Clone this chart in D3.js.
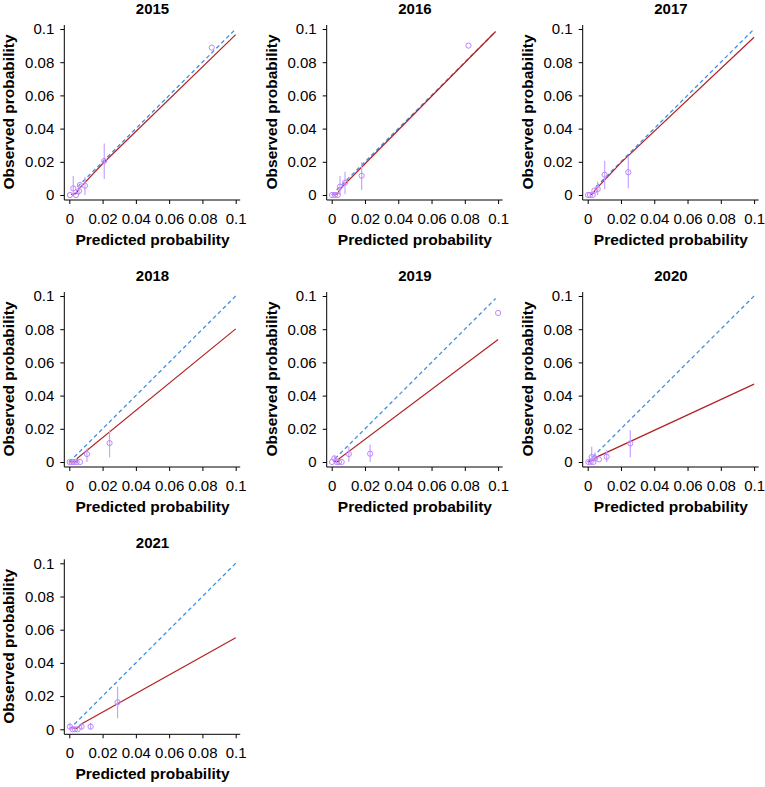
<!DOCTYPE html>
<html>
<head>
<meta charset="utf-8">
<script src="https://cdn.jsdelivr.net/npm/d3@7"></script>
<style>
  body { margin: 0; background: #fff; }
  svg { display: block; }
  text { font-family: "Liberation Sans", Arial, sans-serif; fill: #000; }
</style>
</head>
<body>
<svg id="chart" width="765" height="787"></svg>
<script>
// ---------- data ----------
const years = ["2015", "2016", "2017", "2018", "2019", "2020", "2021"];
const tickValues = [0, 0.02, 0.04, 0.06, 0.08, 0.1];
const tickLabels = ["0", "0.02", "0.04", "0.06", "0.08", "0.1"];

// grouped observations: [predicted, observed, ciLow, ciHigh]
const groups2015 = [[0.0004, 0, null, null], [0.0024, 0.004, 0, 0.0114], [0.004, 0, null, null],
  [0.0058, 0.0024, 0, 0.006], [0.0064, 0.006, null, null], [0.0094, 0.0056, 0, 0.011],
  [0.021, 0.0205, 0.0096, 0.031], [0.0856, 0.0888, null, null]];
const groups2016 = [[0.0002, 0, null, null], [0.002, 0, null, null], [0.0036, 0, null, null],
  [0.005, 0.005, 0, 0.0114], [0.008, 0.0074, 0.0004, 0.014], [0.018, 0.0116, 0.003, 0.0197],
  [0.0822, 0.09, null, null]];
const groups2017 = [[0.0002, 0, null, null], [0.0014, 0, null, null], [0.003, 0, null, null],
  [0.004, 0.0026, null, null], [0.006, 0.0036, 0, 0.008], [0.0102, 0.0122, 0.0034, 0.0207],
  [0.0244, 0.0137, 0.004, 0.0237]];
const groups2018 = [[0.0002, 0, null, null], [0.0014, 0, null, null], [0.0028, 0, null, null],
  [0.0044, 0, null, null], [0.0064, 0, null, null], [0.0106, 0.0048, 0, 0.0082],
  [0.0242, 0.0114, 0.0028, 0.0192]];
const groups2019 = [[0.0002, 0, null, null], [0.0016, 0.0022, 0, 0.0038], [0.003, 0, null, null],
  [0.0044, 0, null, null], [0.006, 0, null, null], [0.0103, 0.0048, 0, 0.0092],
  [0.0231, 0.005, 0, 0.0106], [0.1, 0.0898, null, null]];
const groups2020 = [[0.0004, 0, null, null], [0.0018, 0, null, null], [0.0024, 0.003, 0, 0.0092],
  [0.0034, 0, null, null], [0.0044, 0.0022, 0, 0.0058], [0.0068, 0.0016, null, null],
  [0.0114, 0.0032, 0, 0.0072], [0.0256, 0.0112, 0.0028, 0.0192]];
const groups2021 = [[0.0004, 0.0016, 0, 0.004], [0.002, 0, null, null], [0.0034, 0, null, null],
  [0.005, 0, null, null], [0.0074, 0.0016, 0, 0.0036], [0.0128, 0.0016, 0, 0.004],
  [0.029, 0.0163, 0.0066, 0.0257]];

// flexible calibration curves: [predicted, observed]
const curve2015 = [[0.001, 0.0003], [0.004, 0.0008], [0.0065, 0.0045], [0.02, 0.0188], [0.1, 0.0966]];
const curve2016 = [[0.001, 0], [0.0036, 0.0008], [0.005, 0.0035], [0.02, 0.0188], [0.0985, 0.0985]];
const curve2017 = [[0.0015, 0], [0.003, 0.0008], [0.005, 0.0035], [0.02, 0.0195], [0.1, 0.095]];
const curve2018 = [[0.0005, 0], [0.0047, 0.0002], [0.0048, 0.0022], [0.1, 0.0802]];
const curve2019 = [[0.001, 0.0002], [0.004, 0.0002], [0.0042, 0.0018], [0.1, 0.0738]];
const curve2020 = [[0.0008, 0], [0.0035, 0.0012], [0.005, 0.0028], [0.1, 0.0469]];
const curve2021 = [[0.0008, 0.0012], [0.0045, 0.0004], [0.007, 0.003], [0.1, 0.0552]];

// ideal (diagonal) line extent per panel
const ideal2015 = [0.005, 0.1];
const ideal2016 = [0, 0.098];
const ideal2017 = [0.005, 0.1];
const ideal2018 = [0, 0.1];
const ideal2019 = [0.002, 0.0985];
const ideal2020 = [0, 0.1];
const ideal2021 = [0.003, 0.1];

const groupsByYear = [groups2015, groups2016, groups2017, groups2018, groups2019, groups2020, groups2021];
const curvesByYear = [curve2015, curve2016, curve2017, curve2018, curve2019, curve2020, curve2021];
const idealByYear = [ideal2015, ideal2016, ideal2017, ideal2018, ideal2019, ideal2020, ideal2021];

// ---------- layout ----------
const colX0 = [69.3, 331.7, 587.7];   // pixel of x = 0 per column
const rowY0 = [195, 462, 729.3];      // pixel of y = 0 per row
const xSpan = 166.4, ySpan = 166;

const svg = d3.select("#chart");
const fmt = d => tickLabels[tickValues.indexOf(d)];

years.forEach((yr, i) => {
  const col = i % 3, row = Math.floor(i / 3);
  const x0 = colX0[col], y0 = rowY0[row];
  const x = d3.scaleLinear().domain([0, 0.1]).range([x0, x0 + xSpan]);
  const y = d3.scaleLinear().domain([0, 0.1]).range([y0, y0 - ySpan]);
  const g = svg.append("g");

  // L-shaped frame
  const left = x0 - 5, bottom = y0 + 5, right = x(0.1) + 4.5, top = y(0.1) - 4;
  g.append("path")
    .attr("d", `M${left},${top}V${bottom}H${right}`)
    .attr("fill", "none").attr("stroke", "#000").attr("stroke-width", 1);

  // axes
  const xAxis = d3.axisBottom(x).tickValues(tickValues).tickFormat(fmt)
    .tickSize(4).tickPadding(9.5).tickSizeOuter(0);
  const gx = g.append("g").attr("transform", `translate(0,${bottom})`).call(xAxis);
  gx.select(".domain").remove();

  const yAxis = d3.axisLeft(y).tickValues(tickValues).tickFormat(fmt)
    .tickSize(4).tickPadding(6).tickSizeOuter(0);
  const gy = g.append("g").attr("transform", `translate(${left},0)`).call(yAxis);
  gy.select(".domain").remove();

  [gx, gy].forEach(a => {
    a.selectAll("text").style("font-size", "15px").style("font-family", "'Liberation Sans', Arial, sans-serif").attr("fill", "#000");
    a.selectAll("line").attr("stroke", "#000");
  });

  // titles
  g.append("text").attr("x", x(0.05)).attr("y", y(0.1) - 15)
    .attr("text-anchor", "middle").style("font-size", "15px").style("font-weight", "bold").text(yr);
  g.append("text").attr("x", x(0.05)).attr("y", y0 + 50)
    .attr("text-anchor", "middle").style("font-size", "15.5px").style("font-weight", "bold")
    .text("Predicted probability");
  g.append("text")
    .attr("transform", `translate(${x0 - 55},${y(0.05)}) rotate(-90)`)
    .attr("text-anchor", "middle").style("font-size", "15.5px").style("font-weight", "bold")
    .text("Observed probability");

  // ideal line
  const ideal = idealByYear[i];
  g.append("line")
    .attr("x1", x(ideal[0])).attr("y1", y(ideal[0]))
    .attr("x2", x(ideal[1])).attr("y2", y(ideal[1]))
    .attr("stroke", "#3f8fe6").attr("stroke-width", 1.3).attr("stroke-dasharray", "4,3");

  // calibration curve
  const line = d3.line().x(d => x(d[0])).y(d => y(d[1]));
  g.append("path").datum(curvesByYear[i]).attr("d", line)
    .attr("fill", "none").attr("stroke", "#b22222").attr("stroke-width", 1.2);

  // error bars
  const grp = groupsByYear[i];
  g.selectAll("line.ci").data(grp.filter(d => d[2] !== null)).enter().append("line")
    .attr("class", "ci")
    .attr("x1", d => x(d[0])).attr("x2", d => x(d[0]))
    .attr("y1", d => y(d[2])).attr("y2", d => y(d[3]))
    .attr("stroke", "#c9a3ff").attr("stroke-width", 1.2);

  // points
  g.selectAll("circle").data(grp).enter().append("circle")
    .attr("cx", d => x(d[0])).attr("cy", d => y(d[1])).attr("r", 2.6)
    .attr("fill", "none").attr("stroke", "#bf85ff").attr("stroke-width", 1);
});
</script>
</body>
</html>
